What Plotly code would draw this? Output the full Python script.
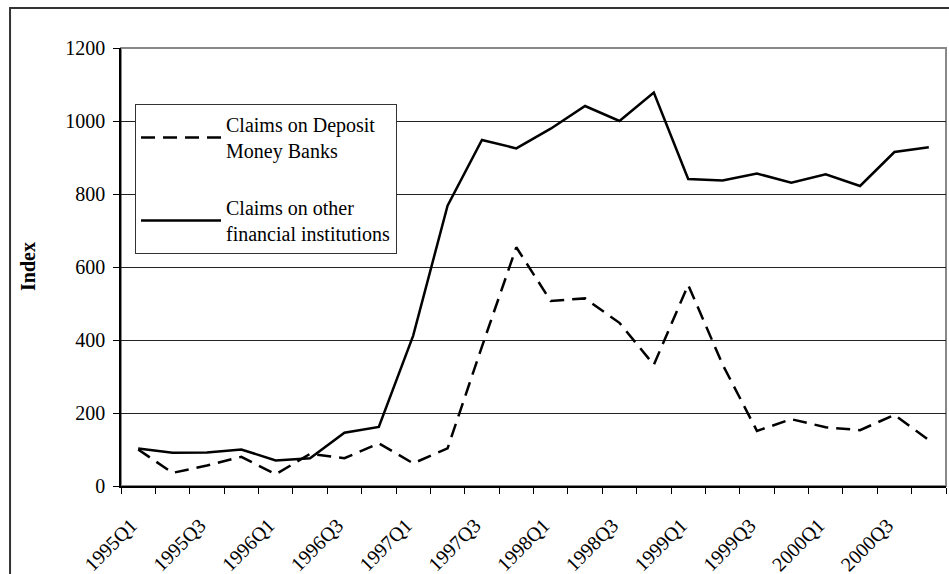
import plotly.graph_objects as go

quarters = [f"{y}Q{q}" for y in range(1995, 2001) for q in range(1, 5)]
deposit_money_banks = [100, 36, 56, 80, 32, 88, 76, 117, 62, 103, 382, 654,
                       507, 514, 447, 332, 551, 333, 151, 183, 161, 153, 195, 126]
other_financial = [103, 91, 92, 100, 70, 76, 146, 162, 412, 768, 948, 925,
                   979, 1041, 1000, 1078, 841, 837, 856, 831, 854, 822, 915, 928]
y_ticks = [0, 200, 400, 600, 800, 1000, 1200]

FONT = "Liberation Serif"
xs = list(range(len(quarters)))

fig = go.Figure()
fig.add_trace(go.Scatter(
    x=xs, y=deposit_money_banks, mode="lines",
    name="Claims on Deposit<br>Money Banks", legendgroup="a",
    line=dict(color="black", width=2.5, dash="14px,8px"),
))
fig.add_trace(go.Scatter(
    x=xs, y=other_financial, mode="lines",
    name="Claims on other<br>financial institutions", legendgroup="b",
    line=dict(color="black", width=2.5),
))

fig.update_layout(
    width=949, height=574,
    margin=dict(l=121, r=3, t=48, b=88),
    paper_bgcolor="white", plot_bgcolor="white",
    font=dict(family=FONT, size=20, color="black"),
    showlegend=True,
    legend=dict(
        x=0.017, y=0.872, xanchor="left", yanchor="top",
        bgcolor="white", bordercolor="#333", borderwidth=1,
        font=dict(family=FONT, size=20, color="black"),
        tracegroupgap=28, itemwidth=80,
    ),
    xaxis=dict(
        range=[-0.5, len(quarters) - 0.5],
        tickmode="array", tickvals=[x - 0.2 for x in xs[::2]], ticktext=quarters[::2],
        tickangle=-45, ticks="", showgrid=False, zeroline=False,
        showline=True, linecolor="black", linewidth=1.5,
        tickfont=dict(family=FONT, size=20),
        ticklabelstandoff=18, automargin=False,
        minor=dict(ticks="outside", ticklen=6, tickcolor="black", tickwidth=1,
                   tickmode="array",
                   tickvals=[i - 0.5 for i in range(len(quarters) + 1)]),
    ),
    yaxis=dict(
        range=[0, 1200], tickmode="array", tickvals=y_ticks,
        ticks="outside", ticklen=6, tickcolor="black",
        showgrid=True, gridcolor="#222", gridwidth=1, zeroline=False,
        showline=True, linecolor="black", linewidth=1.5,
        tickfont=dict(family=FONT, size=20),
        ticklabelstandoff=4, automargin=False,
    ),
    annotations=[dict(
        text="<b>Index</b>", textangle=-90, xref="paper", yref="paper",
        x=-0.1127, y=0.5, xanchor="center", yanchor="middle", showarrow=False,
        font=dict(family=FONT, size=20, color="black"),
    )],
    shapes=[
        dict(type="rect", xref="paper", yref="paper", x0=0, x1=1, y0=0, y1=1,
             line=dict(color="#888", width=2), layer="below"),
        dict(type="rect", xref="paper", yref="paper", x0=-0.1345, x1=1.05,
             y0=-0.4, y1=1.0913, line=dict(color="#333", width=2), layer="below"),
    ],
)

fig.write_html("out.html")
